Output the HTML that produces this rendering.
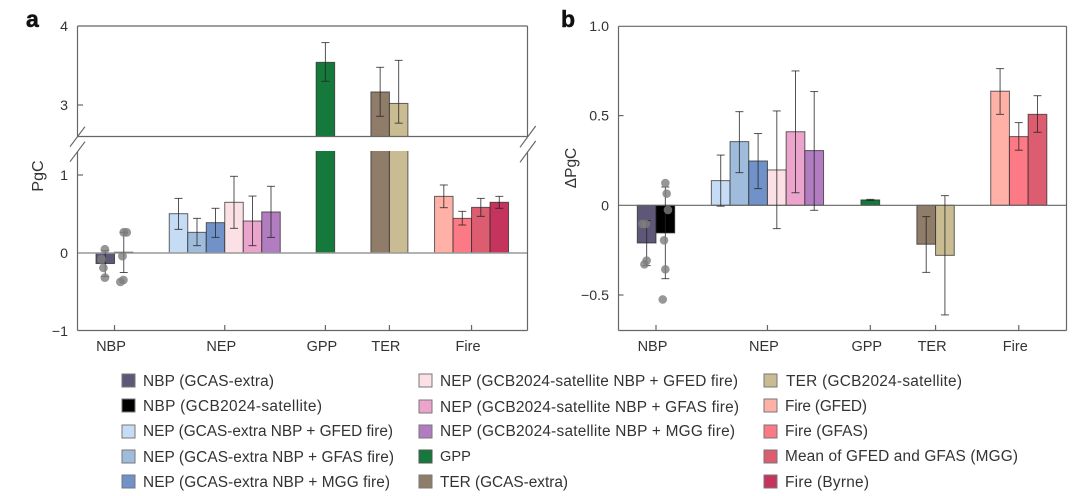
<!DOCTYPE html>
<html lang="en">
<head>
<meta charset="utf-8">
<title>Carbon flux anomalies</title>
<style>
html,body{margin:0;padding:0;background:#fff;width:1080px;height:496px;overflow:hidden}
svg{display:block;font-family:"Liberation Sans",sans-serif}
</style>
</head>
<body>
<svg id="chart" width="1080" height="496" viewBox="0 0 1080 496" xmlns="http://www.w3.org/2000/svg">
  <defs>
    <clipPath id="clip-upper"><rect x="77" y="26" width="451" height="110.5"/></clipPath>
    <clipPath id="clip-lower"><rect x="77" y="151" width="451" height="180"/></clipPath>
  </defs>
  <text x="26" y="27" font-size="23" font-weight="700" fill="#111" stroke="#111" stroke-width="0.5">a</text>
  <text x="561" y="27" font-size="23" font-weight="700" fill="#111" stroke="#111" stroke-width="0.5">b</text>
  <text transform="translate(43,176) rotate(-90)" text-anchor="middle" font-size="16" fill="#333">PgC</text>
  <text transform="translate(576,168) rotate(-90)" text-anchor="middle" font-size="15.5" fill="#333">ΔPgC</text>
  <g id="panel-a"></g>
  <g id="panel-b"></g>

  <g font-size="15.4" fill="#333">
    <g><rect x="122" y="374" width="13" height="13" fill="#5f5777" stroke="#777"/><text x="143" y="386" textLength="131">NBP (GCAS-extra)</text></g>
    <g><rect x="122" y="399" width="13" height="13" fill="#000" stroke="#777"/><text x="143" y="411" textLength="179">NBP (GCB2024-satellite)</text></g>
    <g><rect x="122" y="425" width="13" height="13" fill="#c6dcf5" stroke="#777"/><text x="143" y="436" textLength="250">NEP (GCAS-extra NBP + GFED fire)</text></g>
    <g><rect x="122" y="450" width="13" height="13" fill="#a0bcdd" stroke="#777"/><text x="143" y="462" textLength="251">NEP (GCAS-extra NBP + GFAS fire)</text></g>
    <g><rect x="122" y="475" width="13" height="13" fill="#7092c8" stroke="#777"/><text x="143" y="487" textLength="247">NEP (GCAS-extra NBP + MGG fire)</text></g>

    <g><rect x="419" y="374" width="13" height="13" fill="#fbe0e5" stroke="#777"/><text x="440" y="386" textLength="298">NEP (GCB2024-satellite NBP + GFED fire)</text></g>
    <g><rect x="419" y="400" width="13" height="13" fill="#eba4cc" stroke="#777"/><text x="440" y="412" textLength="299">NEP (GCB2024-satellite NBP + GFAS fire)</text></g>
    <g><rect x="419" y="425" width="13" height="13" fill="#b17cc0" stroke="#777"/><text x="440" y="436" textLength="295">NEP (GCB2024-satellite NBP + MGG fire)</text></g>
    <g><rect x="419" y="450" width="13" height="13" fill="#15793b" stroke="#555"/><text x="440" y="461" font-size="14.6">GPP</text></g>
    <g><rect x="419" y="475" width="13" height="13" fill="#8f7d69" stroke="#777"/><text x="440" y="487" textLength="128">TER (GCAS-extra)</text></g>

    <g><rect x="764" y="374" width="13" height="13" fill="#c9bb92" stroke="#777"/><text x="786" y="386" textLength="176">TER (GCB2024-satellite)</text></g>
    <g><rect x="764" y="399" width="13" height="13" fill="#ffb0a7" stroke="#777"/><text x="785" y="411" textLength="82">Fire (GFED)</text></g>
    <g><rect x="764" y="425" width="13" height="13" fill="#fb7a85" stroke="#777"/><text x="785" y="436" textLength="83">Fire (GFAS)</text></g>
    <g><rect x="764" y="450" width="13" height="13" fill="#dc5d70" stroke="#777"/><text x="785" y="461" textLength="233">Mean of GFED and GFAS (MGG)</text></g>
    <g><rect x="764" y="475" width="13" height="13" fill="#c4345c" stroke="#777"/><text x="785" y="487" textLength="84">Fire (Byrne)</text></g>
  </g>
</svg>

<script>
const categories = ['NBP', 'NEP', 'GPP', 'TER', 'Fire'];

const aValues = [[-0.135, 0.01], [0.504, 0.265, 0.389, 0.65, 0.41, 0.526], [3.54], [3.165, 3.02], [0.726, 0.444, 0.585, 0.65]];
const aErrLow = [[-0.30, -0.25], [0.303, 0.094, 0.2, 0.316, 0.094, 0.2], [3.30], [2.857, 2.77], [0.581, 0.359, 0.47, 0.573]];
const aErrHigh = [[0.03, 0.265], [0.70, 0.444, 0.573, 0.983, 0.73, 0.855], [3.79], [3.477, 3.565], [0.872, 0.534, 0.70, 0.726]];
const aDots = [[0.047, -0.08, -0.19, -0.316], [0.265, 0.265, -0.04, -0.346, -0.37]];

const bValues = [[-0.21, -0.154], [0.1375, 0.355, 0.247, 0.197, 0.41, 0.305], [0.03], [-0.217, -0.279], [0.636, 0.383, 0.507]];
const bErrLow = [[-0.336, -0.409], [-0.005, 0.182, 0.093, -0.13, 0.07, -0.028], [0.027], [-0.374, -0.611], [0.507, 0.307, 0.407]];
const bErrHigh = [[-0.085, 0.102], [0.28, 0.522, 0.40, 0.526, 0.749, 0.634], [0.033], [-0.063, 0.054], [0.762, 0.461, 0.611]];
const bDots = [[-0.104, -0.104, -0.308, -0.329], [0.124, 0.065, -0.026, -0.195, -0.357, -0.525]];

const aTickUpper = [4, 3];
const aTickLower = [1, 0, -1];
const bTicks = [1.0, 0.5, 0, -0.5];
const bTickLabels = ['1.0', '0.5', '0', '−0.5'];

const palette = [
  ['#5f5777', '#000000'],
  ['#c6dcf5', '#a0bcdd', '#7092c8', '#fbe0e5', '#eba4cc', '#b17cc0'],
  ['#15793b'],
  ['#8f7d69', '#c9bb92'],
  ['#ffb0a7', '#fb7a85', '#dc5d70', '#c4345c']
];
const dotJitterA = [[-0.02, -0.2, -0.1, -0.02], [0.16, 0.0, -0.07, -0.02, -0.18]];
const dotJitterB = [[-0.23, -0.05, 0, -0.12], [0, 0.07, 0.14, -0.07, 0, -0.14]];

const NS = 'http://www.w3.org/2000/svg';
function make(parent, tag, attrs, text) {
  const el = document.createElementNS(NS, tag);
  for (const k in attrs) el.setAttribute(k, attrs[k]);
  if (text !== undefined) el.textContent = text;
  parent.appendChild(el);
  return el;
}

/* ---------- panel a scales ---------- */
const aBand = 18.5, aLeft = 96;
const aSlots = [0, 3.96, 11.9, 14.86, 18.3];
function axA(g, i) { return aLeft + (aSlots[g] + i) * aBand; }
function ayUpper(v) { return 26 + (4 - v) * 79; }
function ayLower(v) { return 253 - v * 78; }
const aBreak = 2.6;

/* ---------- panel b scales ---------- */
const bBand = 18.7, bLeft = 637.3;
const bSlots = [0, 3.96, 11.96, 14.95, 18.9];
function bxB(g, i) { return bLeft + (bSlots[g] + i) * bBand; }
function byB(v) { return 205.3 - v * 179.4; }

const axisColor = '#666';
const errColor = 'rgba(35,35,35,0.78)';
const edgeColor = 'rgba(40,40,40,0.72)';
const dotColor = 'rgba(125,125,125,0.8)';

function drawErr(g, cx, y1, y2, clip) {
  const eg = make(g, 'g', clip ? { 'clip-path': clip } : {});
  
  
  make(eg, 'line', { x1: cx, x2: cx, y1: y1, y2: y2, stroke: errColor, 'stroke-width': 1 });
  make(eg, 'line', { x1: cx - 4, x2: cx + 4, y1: y1, y2: y1, stroke: errColor, 'stroke-width': 1 });
  make(eg, 'line', { x1: cx - 4, x2: cx + 4, y1: y2, y2: y2, stroke: errColor, 'stroke-width': 1 });
}

/* ---------- draw panel a ---------- */
const pa = document.getElementById('panel-a');
aValues.forEach(function (group, g) {
  group.forEach(function (v, i) {
    const x = axA(g, i);
    const col = palette[g][i];
    if (v > aBreak) {
      const upper = make(pa, 'rect', { x: x, y: ayUpper(v), width: aBand, height: ayUpper(aBreak - 1) - ayUpper(v), fill: col, stroke: edgeColor, 'stroke-width': 1, 'clip-path': 'url(#clip-upper)' });
      
      
      const lower = make(pa, 'rect', { x: x, y: 100, width: aBand, height: ayLower(0) - 100, fill: col, stroke: edgeColor, 'stroke-width': 1, 'clip-path': 'url(#clip-lower)' });
      
      
    } else {
      const top = Math.min(ayLower(v), ayLower(0));
      const bar = make(pa, 'rect', { x: x, y: top, width: aBand, height: Math.abs(ayLower(v) - ayLower(0)), fill: col, stroke: edgeColor, 'stroke-width': 1 });
      
      
    }
  });
});
const aZero = make(pa, 'line', { x1: 77.5, x2: 527.5, y1: ayLower(0), y2: ayLower(0), stroke: '#999', 'stroke-width': 1.4 });



aValues.forEach(function (group, g) {
  group.forEach(function (v, i) {
    const cx = axA(g, i) + aBand / 2;
    if (v > aBreak) {
      drawErr(pa, cx, ayUpper(aErrHigh[g][i]), ayUpper(aErrLow[g][i]), 'url(#clip-upper)');
    } else {
      drawErr(pa, cx, ayLower(aErrHigh[g][i]), ayLower(aErrLow[g][i]));
    }
  });
});
aDots.forEach(function (series, i) {
  series.forEach(function (v, k) {
    const cx = axA(0, i) + aBand * (0.5 + dotJitterA[i][k]);
    const dot = make(pa, 'circle', { cx: cx, cy: ayLower(v), r: 4.4, fill: dotColor });
    
    
  });
});

function axisLine(parent, x1, y1, x2, y2, name) {
  const l = make(parent, 'line', { x1: x1, y1: y1, x2: x2, y2: y2, stroke: axisColor, 'stroke-width': 1.2 });
  
  
}
axisLine(pa, 77.5, 26, 527.5, 26, 'panel-a-top-border');
axisLine(pa, 77.5, 26, 77.5, 136.5, 'panel-a-left-axis-upper');
axisLine(pa, 527.5, 26, 527.5, 136.5, 'panel-a-right-axis-upper');
axisLine(pa, 77.5, 136.5, 527.5, 136.5, 'panel-a-break-line');
axisLine(pa, 77.5, 151.5, 77.5, 330.5, 'panel-a-left-axis-lower');
axisLine(pa, 527.5, 151.5, 527.5, 330.5, 'panel-a-right-axis-lower');
axisLine(pa, 77.5, 330.5, 527.5, 330.5, 'panel-a-x-axis');
axisLine(pa, 85, 126.7, 70, 146.7, 'axis-break-mark');
axisLine(pa, 85, 141.7, 70, 161.7, 'axis-break-mark');
axisLine(pa, 535.7, 126, 520, 147.3, 'axis-break-mark');
axisLine(pa, 535.7, 141, 520, 162.3, 'axis-break-mark');

function tickLabel(parent, x, y, anchor, text, name) {
  const t = make(parent, 'text', { x: x, y: y, 'text-anchor': anchor, 'font-size': 14.2, fill: '#333' }, text);
  
  
}
aTickUpper.forEach(function (v) {
  const y = ayUpper(v);
  if (v !== 4) axisLine(pa, 77.5, y, 83, y, 'y-tick');
  tickLabel(pa, 68, y + 5, 'end', String(v), 'y-tick-label');
});
aTickLower.forEach(function (v) {
  const y = ayLower(v);
  if (v === 1) axisLine(pa, 77.5, y, 83, y, 'y-tick');
  tickLabel(pa, 68, y + 5, 'end', String(v).replace('-', '−'), 'y-tick-label');
});
categories.forEach(function (c, g) {
  const cx = axA(g, aValues[g].length / 2);
  axisLine(pa, cx, 330.5, cx, 325, 'x-tick');
  const t = make(pa, 'text', { x: cx - 3.5, y: 351, 'text-anchor': 'middle', 'font-size': 14.5, fill: '#333' }, c);
  
  
});

/* ---------- draw panel b ---------- */
const pb = document.getElementById('panel-b');
bValues.forEach(function (group, g) {
  group.forEach(function (v, i) {
    const bar = make(pb, 'rect', { x: bxB(g, i), y: Math.min(byB(v), byB(0)), width: bBand, height: Math.abs(byB(v) - byB(0)), fill: palette[g][i], stroke: edgeColor, 'stroke-width': 1 });
    
    
  });
});
const bZero = make(pb, 'line', { x1: 618.5, x2: 1066.5, y1: byB(0), y2: byB(0), stroke: '#666', 'stroke-width': 1.1 });


bValues.forEach(function (group, g) {
  group.forEach(function (v, i) {
    drawErr(pb, bxB(g, i) + bBand / 2, byB(bErrHigh[g][i]), byB(bErrLow[g][i]));
  });
});
bDots.forEach(function (series, i) {
  series.forEach(function (v, k) {
    const cx = bxB(0, i) + bBand * (0.5 + dotJitterB[i][k]);
    const dot = make(pb, 'circle', { cx: cx, cy: byB(v), r: 4.3, fill: dotColor });
    
    
  });
});
axisLine(pb, 618.5, 26.3, 1066.5, 26.3, 'panel-b-top-border');
axisLine(pb, 618.5, 26.3, 618.5, 330.5, 'panel-b-left-axis');
axisLine(pb, 1066.5, 26.3, 1066.5, 330.5, 'panel-b-right-axis');
axisLine(pb, 618.5, 330.5, 1066.5, 330.5, 'panel-b-x-axis');
bTicks.forEach(function (v, i) {
  const y = byB(v);
  if (v === 0.5 || v === -0.5) axisLine(pb, 618.5, y, 623.5, y, 'y-tick');
  tickLabel(pb, 609, y + 5, 'end', bTickLabels[i], 'y-tick-label');
});
categories.forEach(function (c, g) {
  const cx = bxB(g, bValues[g].length / 2);
  axisLine(pb, cx, 330.5, cx, 325, 'x-tick');
  const t = make(pb, 'text', { x: cx - 3.5, y: 351, 'text-anchor': 'middle', 'font-size': 14.5, fill: '#333' }, c);
  
  
});
</script>
</body>
</html>
